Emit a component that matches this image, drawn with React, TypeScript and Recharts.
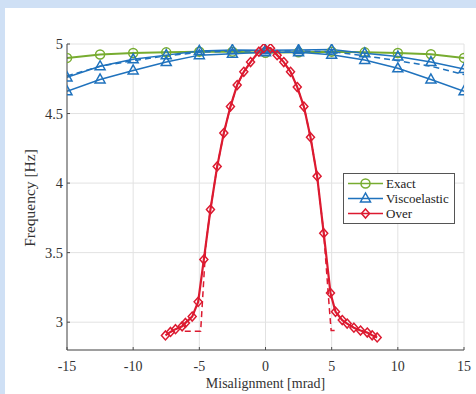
import React from 'react'
import { LineChart, Line, XAxis, YAxis, CartesianGrid, Legend } from 'recharts'

// misalignment grid used by the Exact / Viscoelastic sweeps
const SWEEP_X = [-15, -12.5, -10, -7.5, -5, -2.5, 0, 2.5, 5, 7.5, 10, 12.5, 15]
const EXACT = [4.9, 4.925, 4.935, 4.94, 4.945, 4.945, 4.937, 4.94, 4.945, 4.94, 4.935, 4.926, 4.9]
const VISCO_UPPER = [4.76, 4.84, 4.89, 4.92, 4.95, 4.957, 4.955, 4.957, 4.96, 4.933, 4.91, 4.87, 4.82]
const VISCO_LOWER = [4.66, 4.745, 4.81, 4.87, 4.92, 4.93, 4.94, 4.94, 4.922, 4.885, 4.825, 4.745, 4.66]
const VISCO_DASHED = [4.77, 4.84, 4.88, 4.915, 4.94, 4.95, 4.95, 4.95, 4.945, 4.915, 4.88, 4.84, 4.78]

// "Over" model: sampled on its own x positions
const OVER_X = [
    -7.56, -7.18, -6.8, -6.3, -6.05, -5.54, -5.09, -4.66, -4.16, -3.65, -3.15, -2.65, -2.14, -1.64, -1.13, -0.5,
    -0.13, 0.38, 0.88, 1.38, 1.89, 2.4, 2.9, 3.4, 3.9, 4.4, 4.91, 5.29, 5.8, 6.17, 6.68, 7.18, 7.69, 8.06, 8.44,
]
const OVER_Y = [
    2.905, 2.93, 2.95, 2.97, 2.995, 3.04, 3.146, 3.45, 3.81, 4.12, 4.36, 4.55, 4.705, 4.8, 4.87, 4.945,
    4.97, 4.97, 4.92, 4.87, 4.8, 4.69, 4.55, 4.33, 4.05, 3.64, 3.21, 3.075, 3.015, 2.99, 2.96, 2.94, 2.925, 2.906, 2.89,
]
const OVER_DASHED_X = [
    -6.1, -4.9, -4.5, -4.16, -3.65, -3.15, -2.65, -2.14, -1.64, -1.13, -0.5, -0.13, 0.38, 0.88, 1.38, 1.89, 2.4,
    2.9, 3.4, 3.9, 4.4, 4.8, 4.96, 5.4,
]
const OVER_DASHED_Y = [
    2.935, 2.935, 3.57, 3.81, 4.12, 4.36, 4.55, 4.705, 4.8, 4.87, 4.945, 4.97, 4.97, 4.92, 4.87, 4.8, 4.69,
    4.55, 4.33, 4.05, 3.64, 3.13, 2.94, 2.94,
]

const X_TICKS = [-15, -10, -5, 0, 5, 10, 15]
const Y_TICKS = [3, 3.5, 4, 4.5, 5]

const GREEN = '#77ac30'
const BLUE = '#1f72bd'
const RED = '#dc1a30'
const FONT = '"Liberation Serif", "Times New Roman", serif'

const zip = (xs: number[], ys: number[]) => xs.map((x, i) => ({ x, y: ys[i] }))

const exactData = zip(SWEEP_X, EXACT)
const viscoUpper = zip(SWEEP_X, VISCO_UPPER)
const viscoLower = zip(SWEEP_X, VISCO_LOWER)
const viscoDashed = zip(SWEEP_X, VISCO_DASHED)
const overData = zip(OVER_X, OVER_Y)
const overDashed = zip(OVER_DASHED_X, OVER_DASHED_Y)

const circleMark = (cx: number, cy: number, color: string) => (
    <circle cx={cx} cy={cy} r={4.5} fill="none" stroke={color} strokeWidth={1.5} />
)
const triangleMark = (cx: number, cy: number, color: string) => (
    <polygon
        points={`${cx},${cy - 5.5} ${cx - 5},${cy + 3.5} ${cx + 5},${cy + 3.5}`}
        fill="none"
        stroke={color}
        strokeWidth={1.5}
    />
)
const diamondMark = (cx: number, cy: number, color: string) => (
    <polygon
        points={`${cx},${cy - 4.5} ${cx + 4},${cy} ${cx},${cy + 4.5} ${cx - 4},${cy}`}
        fill="none"
        stroke={color}
        strokeWidth={1.5}
    />
)

const dotOf = (mark: typeof circleMark, color: string) => (props: any) => {
    const { cx, cy, index } = props
    if (cx == null || cy == null) return <g key={`d-${index}`} />
    return <g key={`d-${index}`}>{mark(cx, cy, color)}</g>
}

const LEGEND_ITEMS = [
    { name: 'Exact', color: GREEN, mark: circleMark },
    { name: 'Viscoelastic', color: BLUE, mark: triangleMark },
    { name: 'Over', color: RED, mark: diamondMark },
]

const renderLegend = () => (
    <div
        style={{
            border: '1px solid #555',
            background: '#fff',
            padding: '2px 0',
            width: 110,
            fontFamily: FONT,
            fontSize: 13,
            color: '#222',
        }}
    >
        {LEGEND_ITEMS.map((item) => (
            <div key={item.name} style={{ display: 'flex', alignItems: 'center', height: 15 }}>
                <svg width={42} height={15} style={{ flexShrink: 0 }}>
                    <line x1={4} y1={7.5} x2={39} y2={7.5} stroke={item.color} strokeWidth={1.5} />
                    {item.mark(21.5, 7.5, item.color)}
                </svg>
                <span style={{ lineHeight: '15px' }}>{item.name}</span>
            </div>
        ))}
    </div>
)

export default function App() {
    return (
        <div style={{ position: 'absolute', left: 0, top: 0, width: 476, height: 394, background: '#cfe0f5' }}>
            <div style={{ position: 'absolute', left: 5, top: 8, right: 0, bottom: 0, background: '#fff' }} />
            <div style={{ position: 'absolute', left: 0, top: 0 }}>
                <LineChart width={476} height={394} margin={{ top: 44, right: 12, bottom: 0, left: 7 }}>
                    <CartesianGrid stroke="#e2e2e2" />
                    <XAxis
                        type="number"
                        dataKey="x"
                        domain={[-15, 15]}
                        ticks={X_TICKS}
                        interval={0}
                        allowDataOverflow
                        height={44}
                        axisLine={{ stroke: '#4d4d4d' }}
                        tickLine={{ stroke: '#4d4d4d' }}
                        tickSize={-3}
                        tickMargin={14}
                        tick={{ fill: '#333', fontSize: 14, fontFamily: FONT }}
                        label={{
                            value: 'Misalignment [mrad]',
                            position: 'insideBottom',
                            offset: 6,
                            fill: '#333',
                            fontSize: 14,
                            fontFamily: FONT,
                        }}
                    />
                    <YAxis
                        type="number"
                        domain={[2.8, 5]}
                        ticks={Y_TICKS}
                        interval={0}
                        allowDataOverflow
                        width={60}
                        axisLine={{ stroke: '#4d4d4d' }}
                        tickLine={{ stroke: '#4d4d4d' }}
                        tickSize={-3}
                        tickMargin={7}
                        tick={{ fill: '#333', fontSize: 14.5, fontFamily: FONT }}
                        label={{
                            content: () => (
                                <text
                                    x={35}
                                    y={198}
                                    transform="rotate(-90 35 198)"
                                    textAnchor="middle"
                                    fill="#333"
                                    fontSize={15.5}
                                    fontFamily={FONT}
                                >
                                    Frequency [Hz]
                                </text>
                            ),
                        }}
                    />
                    <Line data={exactData} dataKey="y" stroke={GREEN} strokeWidth={2} dot={dotOf(circleMark, GREEN)} isAnimationActive={false} />
                    <Line data={viscoDashed} dataKey="y" stroke={BLUE} strokeWidth={1.5} strokeDasharray="6 4" dot={false} isAnimationActive={false} />
                    <Line data={viscoUpper} dataKey="y" stroke={BLUE} strokeWidth={1.5} dot={dotOf(triangleMark, BLUE)} isAnimationActive={false} />
                    <Line data={viscoLower} dataKey="y" stroke={BLUE} strokeWidth={1.5} dot={dotOf(triangleMark, BLUE)} isAnimationActive={false} />
                    <Line data={overDashed} dataKey="y" stroke={RED} strokeWidth={1.5} strokeDasharray="6 4" dot={false} isAnimationActive={false} />
                    <Line data={overData} dataKey="y" stroke={RED} strokeWidth={2.2} dot={dotOf(diamondMark, RED)} isAnimationActive={false} />
                    <Legend
                        layout="vertical"
                        align="center"
                        verticalAlign="middle"
                        content={renderLegend}
                        wrapperStyle={{ position: 'absolute', left: 343, top: 173, width: 112 }}
                    />
                </LineChart>
            </div>
        </div>
    )
}
